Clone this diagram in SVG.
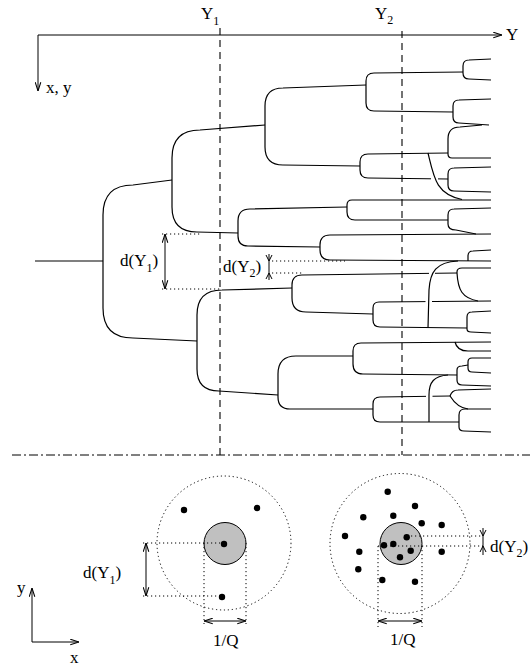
<svg xmlns="http://www.w3.org/2000/svg" width="530" height="667" viewBox="0 0 530 667">
<defs>
<marker id="ah" viewBox="0 0 10 8" refX="10" refY="4" markerWidth="9" markerHeight="7" orient="auto-start-reverse" markerUnits="userSpaceOnUse">
<path d="M0,0.8 L10,4 L0,7.2" fill="none" stroke="#000" stroke-width="1.2"/>
</marker>
<style>
.t{fill:none;stroke:#000;stroke-width:1.2}
.dot{fill:none;stroke:#000;stroke-width:1;stroke-dasharray:1.2 2.8}
.dash{fill:none;stroke:#000;stroke-width:1.1;stroke-dasharray:7 5}
.dd{fill:none;stroke:#000;stroke-width:1;stroke-dasharray:9 3 2 3}
.ln{fill:none;stroke:#000;stroke-width:1}
.arr{marker-start:url(#ah);marker-end:url(#ah)}
.end{marker-end:url(#ah)}
.gap{fill:#fff;stroke:none}
.pt{fill:#000}
.gray{fill:#c0c0c0;stroke:#000;stroke-width:1}
text{font-family:"Liberation Serif","Times New Roman",serif;font-size:17px;fill:#000}
.s{font-size:12px}
</style>
</defs>
<rect width="530" height="667" fill="#fff"/>

<g id="axes">
<path class="ln end" d="M38,35 H502"/>
<path class="ln end" d="M38,35 V91"/>
<text x="506" y="40" font-size="16">Y</text>
<text x="46" y="93" font-size="15">x, y</text>
</g>

<g id="tree">
<path class="t" d="M35,261 H103"/>
<path class="t" d="M103,261 V215 Q103,185 133,185 L172,180"/>
<path class="t" d="M103,261 V308 Q103,338 133,338 L197,341"/>
<path class="t" d="M172,180 V158 Q172,130 200,130 L265,125"/>
<path class="t" d="M172,180 V207 Q172,232 197,232 L238,233"/>
<path class="t" d="M265,125 V106 Q265,88 283,88 L366,85"/>
<path class="t" d="M265,125 V147 Q265,165 283,165 L360,166"/>
<path class="t" d="M366,85 V81 Q366,73 374,73 L463,72"/>
<path class="t" d="M366,85 V103 Q366,111 374,111 L453,112"/>
<path class="t" d="M463,72 V66 Q463,60 469,60 L491,59"/>
<path class="t" d="M463,72 V73 Q463,79 469,79 L491,80"/>
<path class="t" d="M453,112 V106 Q453,100 459,100 L491,99"/>
<path class="t" d="M453,112 V117 Q453,123 459,123 L489,125"/>
<path class="t" d="M360,166 V162 Q360,154 368,154 L448,153"/>
<path class="t" d="M360,166 V170 Q360,178 368,178 L448,179"/>
<path class="t" d="M448,153 V139 Q448,127 460,127 L482,125"/>
<path class="t" d="M448,153 V154 Q448,158 452,158 L491,158"/>
<path class="t" d="M448,179 V174 Q448,168 454,168 L491,167"/>
<path class="t" d="M448,179 V185 Q448,191 454,191 L491,192"/>
<path class="t" d="M238,233 V221 Q238,209 250,209 L347,207"/>
<path class="t" d="M238,233 V236 Q238,246 248,246 L320,247"/>
<path class="t" d="M347,207 V205 Q347,200 352,200 L491,200"/>
<path class="t" d="M347,207 V212 Q347,220 355,220 L448,220"/>
<path class="t" d="M448,220 V215 Q448,209 454,209 L491,208"/>
<path class="t" d="M448,220 V224 Q448,230 456,230 L476,234"/>
<path class="t" d="M320,247 V245 Q320,235 330,235 L491,234"/>
<path class="t" d="M320,247 V250 Q320,260 330,260 L491,261"/>
<path class="t" d="M468,261 V256 Q468,251 473,251 L491,250"/>
<path class="t" d="M197,341 V315 Q197,290 222,290 L292,288"/>
<path class="t" d="M197,341 V369 Q197,391 219,391 L278,395"/>
<path class="t" d="M292,288 V285 Q292,275 302,275 L457,273"/>
<path class="t" d="M292,288 V298 Q292,312 306,312 L373,314"/>
<path class="t" d="M457,273 V272 Q457,268 462,268 L491,268"/>
<path class="t" d="M457,273 C458,290 462,298 478,301"/>
<path class="t" d="M373,314 V308 Q373,302 379,302 L491,301"/>
<path class="t" d="M373,314 V320 Q373,327 380,327 L467,328"/>
<path class="t" d="M467,328 V317 Q467,312 472,312 L491,311"/>
<path class="t" d="M467,328 V329 Q467,332 471,332 L491,333"/>
<path class="t" d="M278,395 V374 Q278,356 296,356 L353,356"/>
<path class="t" d="M278,395 V397 Q278,409 290,409 L373,409"/>
<path class="t" d="M353,356 V351 Q353,343 361,343 L491,342"/>
<path class="t" d="M353,356 V364 Q353,374 363,374 L457,375"/>
<path class="t" d="M455,342 Q457,351 468,351 L491,351"/>
<path class="t" d="M457,375 V370 Q457,366 462,366 L468,365"/>
<path class="t" d="M457,375 V380 Q457,385 462,385 L491,386"/>
<path class="t" d="M468,365 V362 Q468,358 472,358 L491,358"/>
<path class="t" d="M468,365 V368 Q468,372 472,372 L491,373"/>
<path class="t" d="M373,409 V404 Q373,397 380,397 L450,396"/>
<path class="t" d="M373,409 V415 Q373,422 380,422 L459,422"/>
<path class="t" d="M450,396 Q452,390 458,390 L491,389"/>
<path class="t" d="M450,396 C455,404 460,408 468,409"/>
<path class="t" d="M459,422 V415 Q459,409 465,409 L491,409"/>
<path class="t" d="M459,422 V427 Q459,431 464,431 L491,432"/>
<rect class="gap" x="431" y="176.5" width="7" height="5"/>
<rect class="gap" x="425.5" y="298.5" width="6.5" height="5"/>
<rect class="gap" x="429" y="270.5" width="6" height="5"/>
<rect class="gap" x="426" y="393.5" width="6.5" height="5"/>
<path class="t" d="M428,153 C434,178 436,194 462,199.5"/>
<path class="t" d="M428,328 L429,290 C430,272 436,262 458,261"/>
<path class="t" d="M429,422 L429,395 C429,382 434,376 448,375"/>
</g>

<g id="cuts">
<path class="dash" d="M220,28 V455"/>
<path class="dash" d="M402,31 V455"/>
<path class="dd" d="M12,455 H530"/>
<text x="201" y="19">Y<tspan class="s" dy="6">1</tspan></text>
<text x="375" y="19">Y<tspan class="s" dy="5">2</tspan></text>
</g>

<g id="dY1-tree">
<path class="dot" d="M162,234 H200 M162,289 H222"/>
<path class="ln arr" d="M165,234 V289"/>
<text x="120" y="266">d(Y<tspan class="s" dy="6">1</tspan><tspan dy="-6">)</tspan></text>
</g>

<g id="dY2-tree">
<path class="dot" d="M272,261 H345 M272,273 H302"/>
<path class="ln" d="M269,254 V280 M266,255 L269,261 L272,255 M266,279 L269,273 L272,279"/>
<text x="223" y="272">d(Y<tspan class="s" dy="5">2</tspan><tspan dy="-5">)</tspan></text>
</g>

<g id="panel-Y1">
<circle class="dot" cx="224" cy="543" r="67"/>
<circle class="gray" cx="225" cy="543.5" r="21"/>
<path class="dot" d="M143,543 H224 M143,596 H220 M204,543 V624 M246,543 V624"/>
<circle class="pt" cx="184" cy="510" r="3.2"/>
<circle class="pt" cx="257" cy="508" r="3.2"/>
<circle class="pt" cx="224" cy="544" r="3.2"/>
<circle class="pt" cx="222" cy="597" r="3.2"/>
<path class="ln arr" d="M146,543 V596"/>
<path class="ln arr" d="M204,621 H246"/>
<text x="83" y="578">d(Y<tspan class="s" dy="6">1</tspan><tspan dy="-6">)</tspan></text>
<text x="213" y="646">1/Q</text>
</g>

<g id="panel-Y2">
<circle class="dot" cx="400" cy="543.5" r="70"/>
<circle class="gray" cx="401" cy="543.5" r="21"/>
<path class="dot" d="M407,536 H483 M378,546 H483 M378,546 V627 M422,546 V627"/>
<g class="pt">
<circle cx="387.7" cy="491.7" r="3.2"/>
<circle cx="415" cy="506" r="3.2"/>
<circle cx="363.3" cy="517.3" r="3.2"/>
<circle cx="393.3" cy="515.7" r="3.2"/>
<circle cx="421.7" cy="523.3" r="3.2"/>
<circle cx="441.7" cy="525" r="3.2"/>
<circle cx="345" cy="536" r="3.2"/>
<circle cx="406.7" cy="537.3" r="3.2"/>
<circle cx="384" cy="545.3" r="3.2"/>
<circle cx="393.3" cy="544" r="3.2"/>
<circle cx="359.3" cy="551.7" r="3.2"/>
<circle cx="410.7" cy="550.7" r="3.2"/>
<circle cx="441.7" cy="551.7" r="3.2"/>
<circle cx="400" cy="557.3" r="3.2"/>
<circle cx="358.3" cy="569.3" r="3.2"/>
<circle cx="382.3" cy="580" r="3.2"/>
<circle cx="415" cy="581.7" r="3.2"/>
</g>
<path class="ln" d="M483,528 V555 M480,530 L483,536 L486,530 M480,552 L483,546 L486,552"/>
<path class="ln arr" d="M378,621 H422"/>
<text x="490" y="552" font-size="16">d(Y<tspan class="s" dy="5" font-size="11">2</tspan><tspan dy="-5">)</tspan></text>
<text x="390" y="645">1/Q</text>
</g>

<g id="xy-axes">
<path class="ln end" d="M32,642 V588"/>
<path class="ln end" d="M32,642 H79"/>
<text x="17" y="593" font-size="15">y</text>
<text x="70" y="663" font-size="15">x</text>
</g>
</svg>
